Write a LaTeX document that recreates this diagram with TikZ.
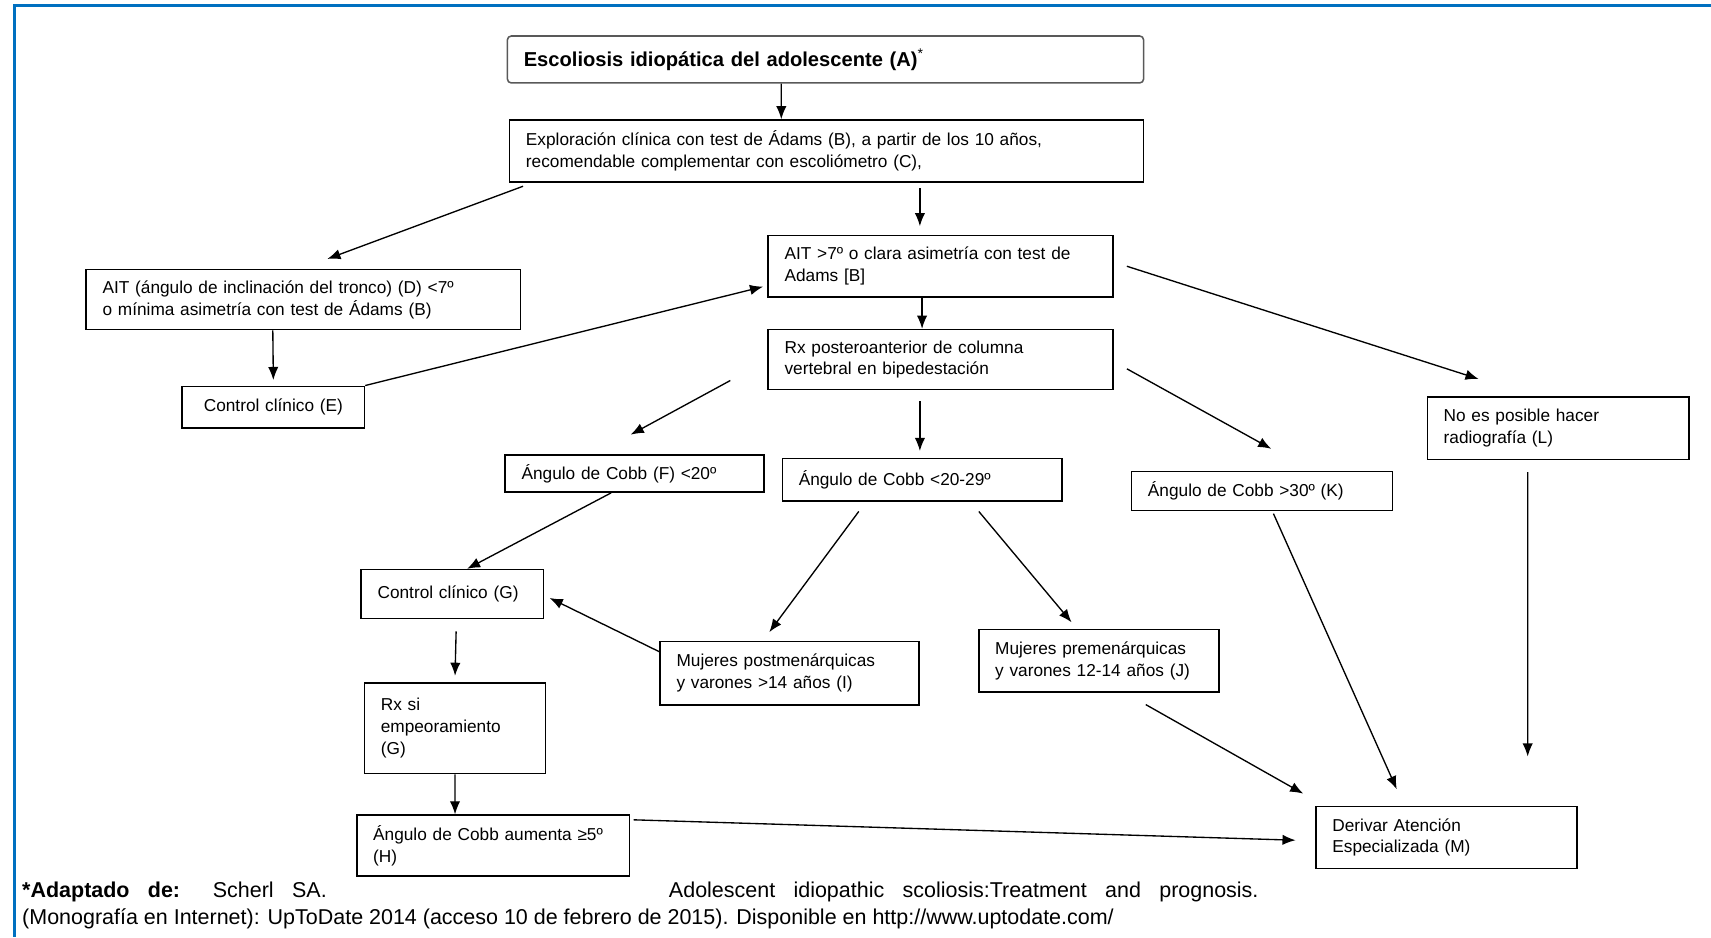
\documentclass[tikz,border=0pt]{standalone}
\usepackage{fontspec}
\setmainfont{Liberation Sans}
\usepackage{xcolor}
\usetikzlibrary{arrows.meta}
\definecolor{frameblue}{RGB}{0,112,192}

\begin{document}
\begin{tikzpicture}[
box/.style={draw, line width=0.8pt, align=left, inner xsep=0.3cm, inner ysep=0pt, font=\fontsize{9}{11.4}\selectfont},
titlebox/.style={box, draw=black!65, rounded corners=2pt, font=\fontsize{10.5}{12}\selectfont},
arr/.style={-{Latex[length=2.4mm,width=1.9mm]}, line width=0.7pt},
]
\useasboundingbox (0,0) rectangle (31.36,-17.18);
\draw[frameblue, line width=1.6pt] (31.36,-0.1) -- (0.26,-0.1) -- (0.26,-17.18);

% boxes
\node[titlebox, text width=11.06cm, minimum height=0.86cm] (adol) at (15.13,-1.09) {\textbf{Escoliosis idiopática del adolescente (A)}\textsuperscript{*}};
\node[box, text width=11.02cm, minimum height=1.14cm] (expl) at (15.15,-2.77) {Exploración clínica con test de Ádams (B), a partir de los 10 años,\\ recomendable complementar con escoliómetro (C),};
\node[box, text width=7.36cm, minimum height=1.10cm] (ait) at (5.56,-5.49) {AIT (ángulo de inclinación del tronco) (D) <7º\\ o mínima asimetría con test de Ádams (B)};
\node[box, text width=5.72cm, minimum height=1.12cm] (asym) at (17.24,-4.88) {AIT >7º o clara asimetría con test de\\ Adams [B]};
\node[box, align=center, text width=2.74cm, minimum height=0.76cm] (ctrlE) at (5.01,-7.46) {Control clínico (E)};
\node[box, text width=5.72cm, minimum height=1.10cm] (rx) at (17.24,-6.59) {Rx posteroanterior de columna\\ vertebral en bipedestación};
\node[box, text width=4.20cm, minimum height=1.14cm] (norx) at (28.56,-7.85) {No es posible hacer\\ radiografía (L)};
\node[box, text width=4.14cm, minimum height=0.68cm] (cobbF) at (11.63,-8.68) {Ángulo de Cobb (F) <20º};
\node[box, text width=4.52cm, minimum height=0.78cm] (cobbmid) at (16.90,-8.79) {Ángulo de Cobb <20-29º};
\node[box, text width=4.18cm, minimum height=0.72cm] (cobbK) at (23.13,-9.00) {Ángulo de Cobb >30º (K)};
\node[box, text width=2.74cm, minimum height=0.90cm] (ctrlG) at (8.29,-10.89) {Control clínico (G)};
\node[box, text width=4.14cm, minimum height=1.16cm] (postm) at (14.47,-12.34) {Mujeres postmenárquicas\\ y varones >14 años (I)};
\node[box, text width=3.80cm, minimum height=1.14cm] (prem) at (20.14,-12.11) {Mujeres premenárquicas\\ y varones 12-14 años (J)};
\node[box, text width=2.72cm, minimum height=1.66cm] (rxG) at (8.34,-13.35) {Rx si\\ empeoramiento\\ (G)};
\node[box, text width=4.40cm, minimum height=1.12cm] (cobbH) at (9.04,-15.50) {Ángulo de Cobb aumenta ≥5º\\ (H)};
\node[box, text width=4.18cm, minimum height=1.14cm] (deriv) at (26.51,-15.35) {Derivar Atención\\ Especializada (M)};

% arrows
\draw[arr] ([xshift=-0.81cm]adol.south) -- ([xshift=-0.83cm]expl.north);
\draw[arr] ([xshift=1.71cm,yshift=-0.1cm]expl.south) -- ([xshift=-0.38cm,yshift=0.16cm]asym.north);
\draw[arr] ([xshift=0.26cm,yshift=-0.06cm]expl.south west) -- ([xshift=0.44cm,yshift=0.18cm]ait.north);
\draw[arr] ([xshift=-0.56cm]ait.south) -- ([yshift=0.1cm]ctrlE.north);
\draw[arr] (ctrlE.north east) -- ([xshift=-0.08cm,yshift=0.2cm]asym.south west);
\draw[arr] ([xshift=-0.34cm]asym.south) -- ([xshift=-0.34cm]rx.north);
\draw[arr] ([xshift=0.24cm]asym.east) -- ([xshift=-1.46cm,yshift=0.32cm]norx.north);
\draw[arr] ([xshift=-0.68cm,yshift=0.18cm]rx.south west) -- ([xshift=-0.07cm,yshift=0.36cm]cobbF.north);
\draw[arr] ([xshift=-0.38cm,yshift=-0.2cm]rx.south) -- ([xshift=-0.04cm,yshift=0.12cm]cobbmid.north);
\draw[arr] ([xshift=0.24cm,yshift=-0.17cm]rx.east) -- ([xshift=0.17cm,yshift=0.4cm]cobbK.north);
\draw[arr] ([xshift=-0.56cm,yshift=-0.22cm]norx.south) -- ([xshift=1.49cm,yshift=0.9cm]deriv.north);
\draw[arr] ([xshift=-0.43cm]cobbF.south) -- ([xshift=0.27cm]ctrlG.north);
\draw[arr] ([xshift=-1.16cm,yshift=-0.18cm]cobbmid.south) -- ([xshift=-0.37cm,yshift=0.16cm]postm.north);
\draw[arr] ([xshift=1.04cm,yshift=-0.18cm]cobbmid.south) -- ([xshift=-0.5cm,yshift=0.12cm]prem.north);
\draw[arr] ([xshift=0.21cm,yshift=-0.04cm]cobbK.south) -- ([xshift=-0.91cm,yshift=0.3cm]deriv.north);
\draw[arr] ([yshift=-0.2cm]postm.north west) -- ([xshift=0.1cm,yshift=-0.07cm]ctrlG.east);
\draw[arr] ([xshift=0.86cm,yshift=-0.22cm]prem.south) -- ([xshift=-0.22cm,yshift=0.22cm]deriv.north west);
\draw[arr] ([xshift=0.07cm,yshift=-0.22cm]ctrlG.south) -- ([yshift=0.12cm]rxG.north);
\draw[arr] (rxG.south) -- ([xshift=-0.7cm]cobbH.north);
\draw[arr] ([xshift=0.06cm,yshift=-0.1cm]cobbH.north east) -- ([xshift=-0.36cm,yshift=-0.05cm]deriv.west);

% source
\node[anchor=west, inner sep=0pt, align=left, font=\fontsize{11.2}{14.2}\selectfont] (fuente) at (0.4,-16.59) {\makebox[22.66cm][s]{\textbf{*Adaptado de:} Scherl SA. \hspace{5.6cm} Adolescent idiopathic scoliosis:Treatment and prognosis.}\\ (Monografía en Internet): UpToDate 2014 (acceso 10 de febrero de 2015). Disponible en http://www.uptodate.com/};
\end{tikzpicture}
\end{document}
